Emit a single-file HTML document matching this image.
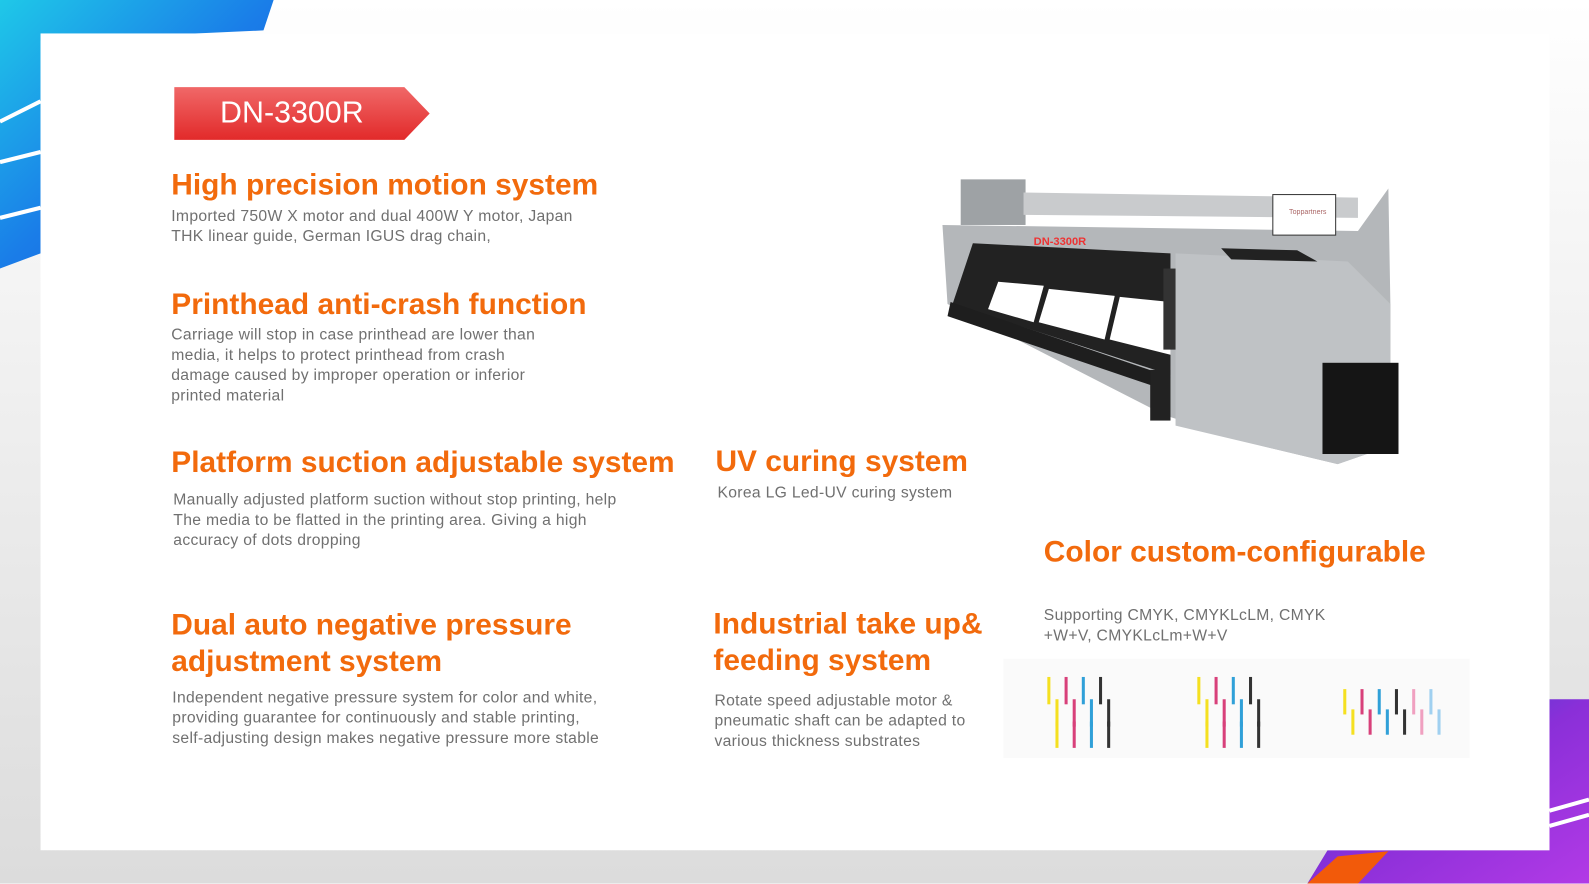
<!DOCTYPE html>
<html><head><meta charset="utf-8"><style>
body{margin:0;width:1589px;height:883px;overflow:hidden;position:relative;background:#fff;font-family:"Liberation Sans",sans-serif}
#w{position:absolute;left:0;top:0;width:1568px;height:872px;transform:scale(1.0134);transform-origin:0 0}
.a{position:absolute}
.h{position:absolute;color:#f26a0c;font-weight:bold;font-size:29.5px;line-height:36px;white-space:nowrap}
.p{position:absolute;color:#707070;font-size:15.5px;line-height:20px;white-space:nowrap;letter-spacing:0.3px}
</style></head><body><div id="w">
<svg class="a" style="left:0;top:0" width="1568" height="872">
<defs>
<linearGradient id="bl" x1="0" y1="0" x2="1" y2="1"><stop offset="0" stop-color="#1fc8e8"/><stop offset="0.5" stop-color="#1a7de8"/><stop offset="1" stop-color="#1552d6"/></linearGradient>
<linearGradient id="pu" x1="0" y1="0" x2="1" y2="1"><stop offset="0" stop-color="#1b4fd0"/><stop offset="0.5" stop-color="#8a2fd8"/><stop offset="1" stop-color="#b23ae6"/></linearGradient>
<linearGradient id="sh" x1="0" y1="0" x2="0" y2="1"><stop offset="0" stop-color="#fff"/><stop offset="1" stop-color="#dcdcdc"/></linearGradient>
<linearGradient id="rd" x1="0" y1="0" x2="0" y2="1"><stop offset="0" stop-color="#f06868"/><stop offset="1" stop-color="#e22a2a"/></linearGradient>
</defs>
<rect x="0" y="0" width="1568" height="872" fill="url(#sh)"/>
<polygon points="0,0 270,0 260,30 40,40 40,250 0,265" fill="url(#bl)"/>
<path d="M0,120 L40,100 M0,160 L40,150 M0,215 L40,205" stroke="#fff" stroke-width="4"/>
<polygon points="1529,690 1568,690 1568,872 1290,872 1310,839 1529,839" fill="url(#pu)"/>
<polygon points="1290,872 1320,845 1370,840 1340,872" fill="#f25a0a"/>
<path d="M1529,800 L1568,789 M1529,815 L1568,804" stroke="#fff" stroke-width="4"/>
<rect x="40" y="33" width="1489" height="806" fill="#fff"/>
<polygon points="172,86 399,86 424,112 399,138 172,138" fill="url(#rd)"/>
<g>
<rect x="948" y="177" width="64" height="45" fill="#9ea2a5"/>
<polygon points="1010,190 1340,195 1340,215 1010,212" fill="#c9cbcd"/>
<polygon points="930,222 1340,228 1370,186 1372,300 1372,440 1320,458 1245,440 1150,410 935,300" fill="#b4b7ba"/>
<polygon points="1160,250 1330,258 1372,300 1372,440 1320,458 1160,420" fill="#bfc2c5"/>
<polygon points="960,240 1155,250 1155,370 940,300" fill="#222"/>
<polygon points="985,278 1030,282 1020,318 975,305" fill="#fff"/>
<polygon points="1035,285 1100,292 1090,335 1025,318" fill="#fff"/>
<polygon points="1105,293 1155,298 1155,350 1095,335" fill="#fff"/>
<polygon points="938,298 1155,372 1150,385 935,312" fill="#1e1e1e"/>
<rect x="1135" y="365" width="20" height="50" fill="#222"/>
<rect x="1256" y="192" width="62" height="40" fill="#fff" stroke="#333"/>
<text x="1272" y="211" font-size="7" fill="#a66" font-family="Liberation Sans">Toppartners</text>
<polygon points="1205,245 1280,247 1300,258 1215,256" fill="#222"/>
<rect x="1148" y="265" width="12" height="80" fill="#333"/>
<rect x="1305" y="358" width="75" height="90" fill="#151515"/>
<text x="1020" y="242" font-size="11" font-weight="bold" fill="#e33" font-family="Liberation Sans">DN-3300R</text>
</g>
<rect x="990" y="650" width="460" height="98" fill="#fafafa"/>
<g stroke-width="3">
<g id="t">
<line x1="1035" y1="668" x2="1035" y2="695" stroke="#f5e020"/><line x1="1043" y1="690" x2="1043" y2="717" stroke="#f5e020"/>
<line x1="1052" y1="668" x2="1052" y2="695" stroke="#d8407a"/><line x1="1060" y1="690" x2="1060" y2="717" stroke="#d8407a"/>
<line x1="1069" y1="668" x2="1069" y2="695" stroke="#30a0d8"/><line x1="1077" y1="690" x2="1077" y2="717" stroke="#30a0d8"/>
<line x1="1086" y1="668" x2="1086" y2="695" stroke="#333"/><line x1="1094" y1="690" x2="1094" y2="717" stroke="#333"/>
<line x1="1043" y1="712" x2="1043" y2="738" stroke="#f5e020"/><line x1="1060" y1="712" x2="1060" y2="738" stroke="#d8407a"/>
<line x1="1077" y1="712" x2="1077" y2="738" stroke="#30a0d8"/><line x1="1094" y1="712" x2="1094" y2="738" stroke="#333"/>
</g>
<use href="#t" x="148"/>
<g>
<line x1="1327" y1="680" x2="1327" y2="705" stroke="#f5e020"/><line x1="1335" y1="700" x2="1335" y2="725" stroke="#f5e020"/>
<line x1="1344" y1="680" x2="1344" y2="705" stroke="#d8407a"/><line x1="1352" y1="700" x2="1352" y2="725" stroke="#d8407a"/>
<line x1="1361" y1="680" x2="1361" y2="705" stroke="#30a0d8"/><line x1="1369" y1="700" x2="1369" y2="725" stroke="#30a0d8"/>
<line x1="1378" y1="680" x2="1378" y2="705" stroke="#333"/><line x1="1386" y1="700" x2="1386" y2="725" stroke="#333"/>
<line x1="1395" y1="680" x2="1395" y2="705" stroke="#f0a0c0"/><line x1="1403" y1="700" x2="1403" y2="725" stroke="#f0a0c0"/>
<line x1="1412" y1="680" x2="1412" y2="705" stroke="#a0d0f0"/><line x1="1420" y1="700" x2="1420" y2="725" stroke="#a0d0f0"/>
</g>
</g>
</svg>
<div class="a" style="left:172px;top:93px;width:232px;text-align:center;color:#fff;font-size:30px;line-height:38px">DN-3300R</div>

<div class="h" style="left:169px;top:165px">High precision motion system</div>
<div class="p" style="left:169px;top:204px">Imported 750W X motor and dual 400W Y motor, Japan<br>THK linear guide, German IGUS drag chain,</div>

<div class="h" style="left:169px;top:283px">Printhead anti-crash function</div>
<div class="p" style="left:169px;top:321px">Carriage will stop in case printhead are lower than<br>media, it helps to protect printhead from crash<br>damage caused by improper operation or inferior<br>printed material</div>

<div class="h" style="left:169px;top:439px">Platform suction adjustable system</div>
<div class="p" style="left:171px;top:484px">Manually adjusted platform suction without stop printing, help<br>The media to be flatted in the printing area. Giving a high<br>accuracy of dots dropping</div>

<div class="h" style="left:706px;top:438px">UV curing system</div>
<div class="p" style="left:708px;top:477px">Korea LG Led-UV curing system</div>

<div class="h" style="left:1030px;top:527px">Color custom-configurable</div>
<div class="p" style="left:1030px;top:598px">Supporting CMYK, CMYKLcLM, CMYK<br>+W+V, CMYKLcLm+W+V</div>

<div class="h" style="left:169px;top:599px">Dual auto negative pressure<br>adjustment system</div>
<div class="p" style="left:170px;top:679px">Independent negative pressure system for color and white,<br>providing guarantee for continuously and stable printing,<br>self-adjusting design makes negative pressure more stable</div>

<div class="h" style="left:704px;top:598px">Industrial take up&amp;<br>feeding system</div>
<div class="p" style="left:705px;top:682px">Rotate speed adjustable motor &amp;<br>pneumatic shaft can be adapted to<br>various thickness substrates</div>
</div></body></html>
